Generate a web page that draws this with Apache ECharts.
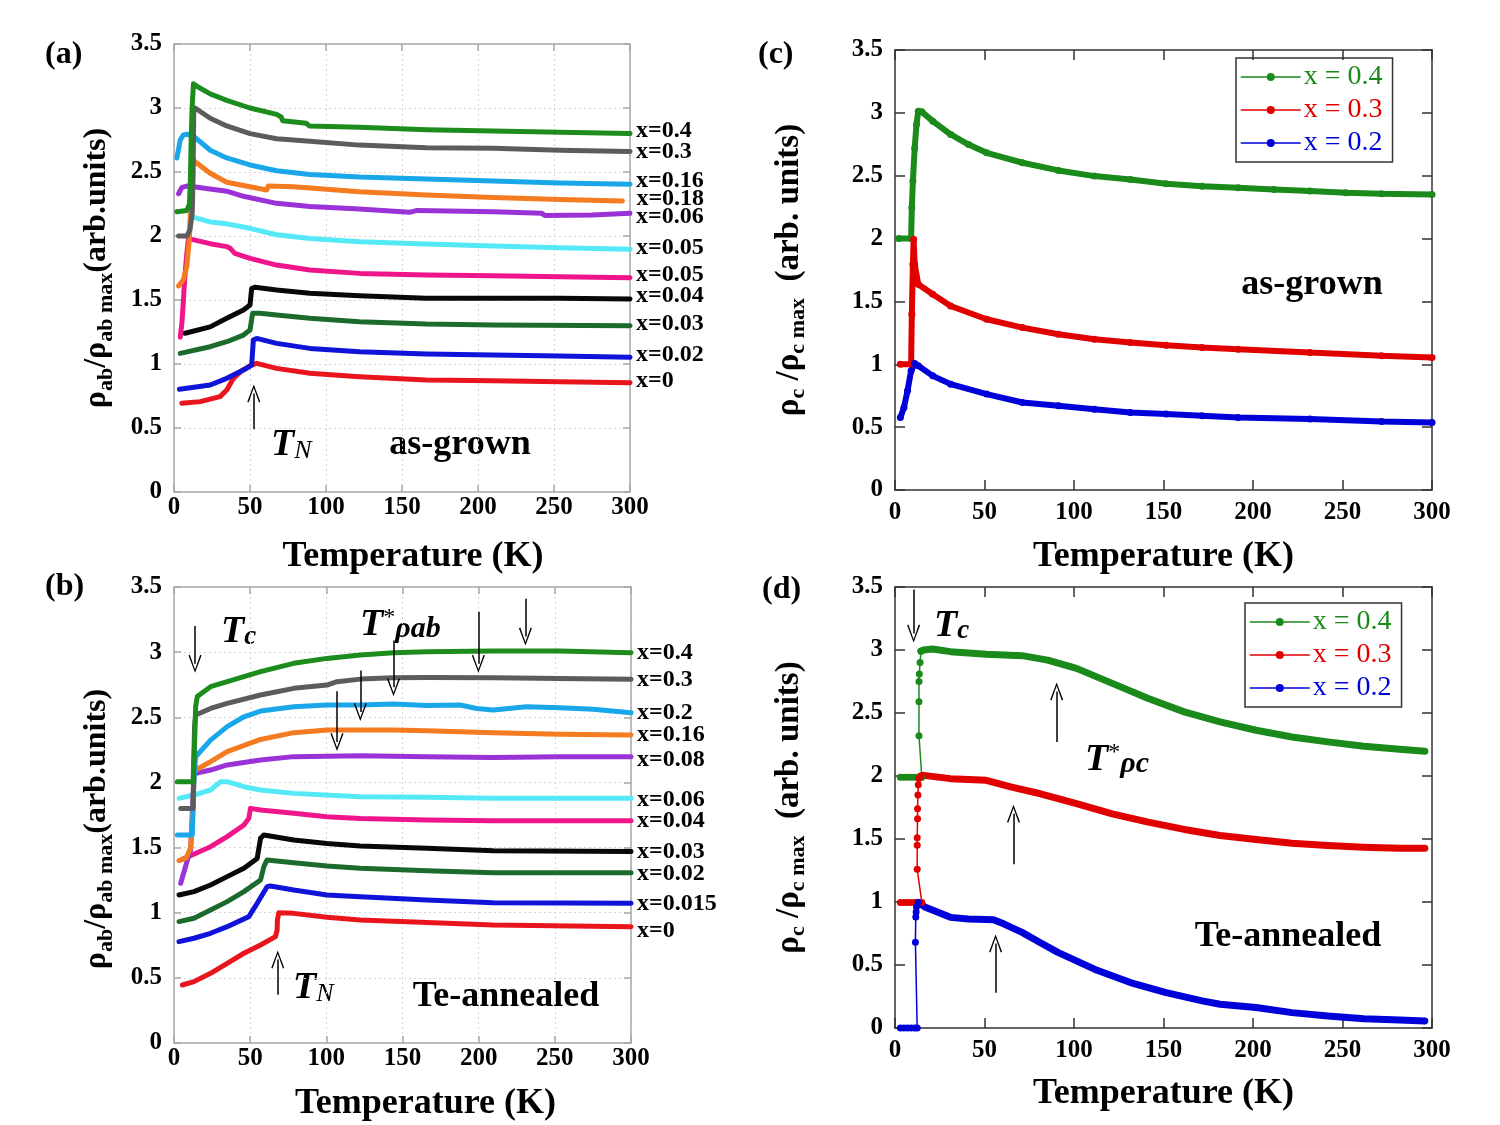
<!DOCTYPE html>
<html>
<head>
<meta charset="utf-8">
<script src="https://cdn.jsdelivr.net/npm/echarts@6/dist/echarts.min.js"></script>
<style>
  html, body { margin: 0; padding: 0; background: #fff; }
  #chart { width: 1500px; height: 1125px; }
</style>
</head>
<body>
<div id="chart"></div>
<script>
// (a) as-grown, rho_ab  [T (K), rho/rho_max]
const aX04 = [[1.9,2.19],[8.4,2.2],[10.2,2.25],[10.8,2.45],[11.3,2.75],[11.9,3.0],[12.8,3.19],[15,3.17],[23.8,3.11],[34.7,3.06],[50,3.0],[67.5,2.95],[70.5,2.93],[71.5,2.9],[87,2.88],[89,2.86],[122,2.85],[166,2.83],[210,2.82],[254,2.81],[300,2.8]]
const aX03 = [[3,2.0],[8.5,2.0],[10.5,2.05],[12,2.18],[12.6,2.5],[13,2.98],[13.9,3.0],[23.8,2.92],[34.7,2.86],[50,2.8],[67.5,2.76],[89.4,2.74],[122,2.71],[166,2.69],[210,2.685],[254,2.67],[300,2.66]]
const aX016 = [[1.9,2.61],[4.1,2.75],[6.2,2.79],[8.4,2.795],[12.8,2.78],[23.8,2.67],[34.7,2.61],[50,2.555],[67.5,2.51],[89.4,2.48],[122,2.46],[166,2.445],[210,2.43],[254,2.415],[300,2.405]]
const aX018 = [[3,1.61],[6.2,1.66],[8.4,1.76],[10.1,1.97],[11,2.28],[11.7,2.49],[12.8,2.59],[23.8,2.49],[34.7,2.42],[50,2.385],[61,2.36],[62,2.39],[78.5,2.385],[122,2.345],[166,2.32],[210,2.3],[254,2.285],[295,2.273]]
const aX006 = [[3,2.33],[5.2,2.38],[8.4,2.39],[12.8,2.385],[34.7,2.35],[45.7,2.31],[67.5,2.255],[89.4,2.23],[122,2.21],[155,2.185],[160,2.2],[210,2.19],[242,2.177],[244,2.16],[275,2.165],[300,2.177]]
const aX005a = [[11.7,2.15],[23.8,2.11],[34.7,2.095],[50,2.06],[67.5,2.01],[89.4,1.98],[122,1.956],[166,1.937],[210,1.922],[254,1.909],[300,1.896]]
const aX005b = [[4.1,1.21],[5.2,1.32],[6.2,1.5],[7.3,1.71],[8.4,1.86],[9.5,1.98],[10.1,1.995],[23.8,1.94],[34.7,1.917],[37,1.904],[40,1.864],[50,1.825],[67.5,1.773],[89.4,1.734],[122,1.708],[166,1.695],[210,1.69],[254,1.682],[300,1.674]]
const aX004 = [[7.3,1.24],[23.8,1.29],[34.7,1.357],[45.7,1.422],[50,1.461],[51.1,1.59],[53.3,1.6],[67.5,1.578],[89.4,1.552],[122,1.534],[166,1.513],[210,1.513],[254,1.513],[300,1.508]]
const aX003 = [[4.1,1.083],[23.8,1.135],[34.7,1.174],[45.7,1.226],[50,1.265],[51.7,1.396],[56.6,1.396],[67.5,1.383],[89.4,1.357],[122,1.331],[166,1.312],[210,1.305],[300,1.299]]
const aX002 = [[3.6,0.802],[23.8,0.836],[34.7,0.888],[45.7,0.953],[51.1,0.992],[52.2,1.187],[54.4,1.2],[67.5,1.161],[89.4,1.122],[122,1.096],[166,1.078],[210,1.07],[254,1.062],[300,1.052]]
const aX0 = [[5.2,0.693],[17.2,0.706],[30.3,0.745],[34.7,0.797],[39.1,0.888],[44.6,0.948],[51.1,0.992],[54.4,1.005],[67.5,0.966],[89.4,0.927],[122,0.901],[166,0.875],[210,0.87],[254,0.862],[300,0.854]]

// (b) Te-annealed, rho_ab
const bX04 = [[2.2,2.006],[12.5,2.006],[13.5,2.3],[14.2,2.58],[15.3,2.66],[24,2.735],[34.9,2.773],[56.8,2.85],[78.6,2.914],[100.4,2.952],[122.3,2.978],[144.1,2.995],[166,3.003],[209.6,3.008],[253.2,3.008],[300,2.995]]
const bX03 = [[4.4,1.8],[12.5,1.8],[13.1,2.22],[13.5,2.43],[14.2,2.517],[24,2.568],[34.9,2.607],[56.8,2.671],[78.6,2.722],[100.4,2.747],[107,2.773],[122.3,2.793],[144.1,2.804],[166,2.806],[209.6,2.804],[253.2,2.798],[300,2.791]]
const bX02 = [[2.2,1.597],[12,1.597],[13.1,2.018],[14.2,2.197],[24,2.325],[34.9,2.428],[45.9,2.504],[56.8,2.548],[78.6,2.581],[100.4,2.594],[122.3,2.594],[144.1,2.602],[166,2.59],[187.8,2.594],[198.7,2.568],[209.6,2.556],[231.4,2.581],[253.2,2.574],[275.1,2.561],[300,2.535]]
const bX016 = [[3.3,1.4],[8,1.42],[11,1.5],[12.5,1.8],[13.1,2.07],[14.2,2.095],[24,2.159],[34.9,2.236],[56.8,2.33],[78.6,2.382],[100.4,2.402],[122.3,2.402],[144.1,2.402],[166,2.397],[209.6,2.382],[253.2,2.369],[300,2.364]]
const bX008 = [[4.4,1.226],[6.6,1.315],[8.8,1.405],[10.9,1.481],[12,1.763],[13.1,2.044],[14.2,2.07],[24,2.095],[34.9,2.134],[56.8,2.172],[78.6,2.198],[122.3,2.205],[166,2.198],[209.6,2.192],[253.2,2.198],[300,2.198]]
const bX006 = [[3.3,1.878],[13.1,1.903],[24,1.942],[30.6,2.006],[34.9,2.006],[45.9,1.967],[56.8,1.942],[78.6,1.916],[122.3,1.891],[166,1.886],[209.6,1.878],[300,1.878]]
const bX004 = [[5.5,1.41],[24,1.507],[34.9,1.584],[45.9,1.673],[49.1,1.724],[50.2,1.801],[56.8,1.788],[78.6,1.763],[100.4,1.737],[122.3,1.724],[166,1.712],[209.6,1.706],[300,1.706]]
const bX003 = [[3.3,1.136],[13.1,1.162],[24,1.213],[34.9,1.277],[45.9,1.341],[54.6,1.417],[56.8,1.571],[59,1.597],[78.6,1.558],[100.4,1.532],[122.3,1.512],[166,1.494],[209.6,1.476],[300,1.469]]
const bX002 = [[3.3,0.932],[13.1,0.957],[24,1.021],[34.9,1.085],[45.9,1.162],[56.8,1.251],[59,1.354],[61.1,1.405],[78.6,1.384],[100.4,1.359],[122.3,1.341],[166,1.323],[209.6,1.307],[300,1.307]]
const bX0015 = [[3.3,0.778],[13.1,0.804],[24,0.842],[34.9,0.893],[49.1,0.97],[54.6,1.072],[61.1,1.2],[63.3,1.205],[78.6,1.174],[100.4,1.136],[122.3,1.123],[166,1.098],[209.6,1.077],[300,1.072]]
const bX0 = [[5.5,0.445],[13.1,0.471],[24,0.535],[34.9,0.612],[45.9,0.689],[56.8,0.752],[66.6,0.816],[67.7,0.867],[67.9,0.944],[68.8,1.0],[78.6,0.995],[100.4,0.965],[122.3,0.944],[166,0.924],[209.6,0.906],[300,0.893]]

// (c) as-grown, rho_c
const cX04 = [[2,2.0],[9,2.0],[9.4,2.245],[10,2.457],[11,2.72],[12,2.907],[13,3.013],[15,3.008],[21.1,2.934],[31.1,2.828],[41.1,2.748],[51.2,2.682],[71.2,2.603],[91.3,2.542],[111.4,2.497],[131.5,2.47],[151.5,2.436],[171.6,2.417],[191.7,2.404],[211.7,2.391],[231.8,2.378],[251.9,2.364],[271.9,2.356],[300,2.351]]
const cX03 = [[3,1.0],[9,1.0],[9.4,1.398],[10,1.795],[10.4,1.994],[11,1.795],[13,1.636],[21.1,1.557],[31.1,1.464],[51.2,1.358],[71.2,1.292],[91.3,1.239],[111.4,1.199],[131.5,1.173],[151.5,1.152],[171.6,1.133],[191.7,1.12],[231.8,1.093],[271.9,1.067],[300,1.054]]
const cX02 = [[3,0.577],[5,0.657],[7,0.789],[9,0.948],[11,1.006],[13,0.988],[21.1,0.908],[31.1,0.842],[51.2,0.763],[71.2,0.696],[91.3,0.67],[111.4,0.643],[131.5,0.617],[151.5,0.604],[171.6,0.59],[191.7,0.577],[231.8,0.564],[271.9,0.545],[300,0.537]]

// (d) Te-annealed, rho_c : low-T part (sparse points) and normal state
const dX04Low = [[3,1.99],[5,1.99],[7,1.99],[9,1.99],[11,1.99],[13,1.99],[15,1.99],[13.4,2.32],[13.4,2.59],[13.4,2.75],[13.6,2.81],[14,2.9],[14.5,2.99]]
const dX04 = [[14.5,2.99],[16,3.0],[21,3.008],[31,2.987],[51,2.966],[71,2.955],[85.3,2.92],[101.4,2.854],[121.4,2.735],[141.5,2.615],[161.6,2.509],[181.6,2.43],[201.7,2.363],[221.8,2.31],[241.8,2.271],[261.9,2.236],[282,2.212],[296,2.196]]
const dX03Low = [[3,0.997],[5,0.997],[7,0.997],[9,0.997],[11,0.997],[13,0.997],[15,0.997],[12.4,1.26],[12.4,1.45],[12.4,1.51],[12.6,1.66],[12.6,1.74],[12.8,1.85],[13,1.93],[13.4,1.98],[14.5,2.0]]
const dX03 = [[14.5,2.0],[16,2.005],[31,1.979],[51,1.966],[65.2,1.912],[81.3,1.859],[101.4,1.78],[121.4,1.7],[141.5,1.634],[161.6,1.576],[181.6,1.528],[201.7,1.496],[221.8,1.467],[241.8,1.448],[261.9,1.435],[282,1.427],[296,1.427]]
const dX02Low = [[3,0],[5,0],[7,0],[9,0],[11,0],[12.4,0],[11.4,0.68],[11.6,0.88],[11.8,0.92],[12,0.96],[13,0.997]]
const dX02 = [[13,0.997],[17,0.958],[31,0.878],[41,0.865],[55,0.859],[61,0.825],[71,0.759],[81,0.679],[91,0.6],[111.4,0.467],[131.5,0.361],[151.5,0.281],[171.6,0.215],[181.6,0.188],[201.7,0.162],[221.8,0.122],[241.8,0.095],[261.9,0.074],[282,0.064],[296,0.056]]

// annotation arrows [from, to]
const aArrows = [[[52.5, 0.49], [52.5, 0.77]]]
const bArrows = [
  [[13.8, 3.2], [13.8, 2.91]],
  [[107, 2.7], [107, 2.31]],
  [[122.3, 2.86], [122.3, 2.54]],
  [[144.1, 3.09], [144.1, 2.73]],
  [[199.8, 3.31], [199.8, 2.91]],
  [[230.7, 3.41], [230.7, 3.12]],
  [[68.1, 0.37], [68.1, 0.64]]
]
const dArrows = [
  [[10.4, 3.48], [10.4, 3.13]],
  [[90.3, 2.27], [90.3, 2.67]],
  [[66.2, 1.3], [66.2, 1.7]],
  [[56.2, 0.28], [56.2, 0.67]]
]

const SERIF = '"Liberation Serif", "Times New Roman", serif'
const chevron = 'path://M5,0 L10,14 L9,14.6 L5,2.8 L1,14.6 L0,14 Z'

const chart = echarts.init(document.getElementById('chart'))

function frameAxes(grid, dim, light) {
  const col = light ? '#a8a8a8' : '#333'
  const labelStyle = { fontFamily: SERIF, fontWeight: 'bold', fontSize: 25, color: '#000' }
  const isX = dim === 'x'
  const main = {
    gridIndex: grid, type: 'value',
    min: 0, max: isX ? 300 : 3.5, interval: isX ? 50 : 0.5,
    axisLine: { show: true, onZero: false, lineStyle: { color: col, width: 1.5 } },
    axisTick: { show: true, inside: true, length: light ? 7 : 10, lineStyle: { color: col, width: 1.5 } },
    axisLabel: Object.assign({ margin: isX ? (light ? 3 : 10) : 12 }, labelStyle),
    splitLine: { show: light, lineStyle: { type: [2, 3], color: '#d6d6d6', width: 1 } }
  }
  const mirror = {
    gridIndex: grid, type: 'value', position: isX ? 'top' : 'right',
    min: 0, max: isX ? 300 : 3.5, interval: isX ? 50 : 0.5,
    axisLine: { show: true, onZero: false, lineStyle: { color: col, width: 1.5 } },
    axisTick: { show: true, inside: true, length: light ? 7 : 10, lineStyle: { color: col, width: 1.5 } },
    axisLabel: { show: false },
    splitLine: { show: false }
  }
  return [main, mirror]
}

const xTitleStyle = { fontFamily: SERIF, fontWeight: 'bold', fontSize: 36, color: '#000' }
function yTitleRich(size) {
  return {
    fontFamily: SERIF, fontWeight: 'bold', color: '#000',
    rich: {
      b: { fontFamily: SERIF, fontWeight: 'bold', fontSize: size, lineHeight: 36, verticalAlign: 'top', color: '#000' },
      s: { fontFamily: SERIF, fontWeight: 'bold', fontSize: 22, lineHeight: 14, verticalAlign: 'bottom', color: '#000' }
    }
  }
}

const xAxes = [], yAxes = []
;[0, 1, 2, 3].forEach(g => {
  const light = g < 2
  const [xm, xt] = frameAxes(g, 'x', light)
  const [ym, yr] = frameAxes(g, 'y', light)
  xm.name = 'Temperature (K)'
  xm.nameLocation = 'middle'
  xm.nameTextStyle = Object.assign({}, xTitleStyle)
  ym.nameLocation = 'middle'
  ym.nameRotate = 90
  if (light) {
    ym.name = '{b|ρ}{s|ab}{b|/ρ}{s|ab max}{b|(arb.units)}'
    ym.nameGap = 57
    ym.nameTextStyle = yTitleRich(32)
  } else {
    ym.name = '{b|ρ}{s|c}{b| /ρ}{s|c max}{b|  (arb. units)}'
    ym.nameGap = 86
    ym.nameTextStyle = yTitleRich(33)
  }
  xAxes.push(xm, xt)
  yAxes.push(ym, yr)
})
xAxes[0].nameGap = 47; xAxes[0].nameTextStyle.padding = [0, 0, 0, 22]
xAxes[2].nameGap = 43; xAxes[2].nameTextStyle.padding = [0, 0, 0, 46]
xAxes[4].nameGap = 49
xAxes[6].nameGap = 48
yAxes[2].nameTextStyle.padding = [0, 28, 0, 0]

function markArrows(list) {
  return {
    silent: true,
    animation: false,
    symbol: ['none', chevron],
    symbolSize: [13, 18],
    lineStyle: { color: '#000', width: 1.5, type: 'solid' },
    label: { show: false },
    emphasis: { disabled: true },
    data: list.map(a => [{ coord: a[0] }, { coord: a[1] }])
  }
}

function abSeries(grid, data, color, label, dy, dx) {
  return {
    type: 'line', data: data,
    xAxisIndex: grid * 2, yAxisIndex: grid * 2,
    symbol: 'none', showSymbol: false, silent: true,
    lineStyle: { color: color, width: 5, cap: 'round', join: 'round' },
    itemStyle: { color: color },
    endLabel: {
      show: true, formatter: label, distance: 6 + (dx || 0),
      offset: [0, dy || 0],
      fontFamily: SERIF, fontWeight: 'bold', fontSize: 24, color: '#000'
    }
  }
}

const GREEN = '#1c8c1c', GRAY = '#5c5c5c', SKY = '#1aa7ea', ORANGE = '#f47b20',
  PURPLE = '#9a32d8', CYAN = '#55e9f7', PINK = '#ee168a', BLACK = '#080808',
  DKGREEN = '#1c6b2c', BLUE = '#0f14d8', RED = '#e8161c'
const C_GREEN = '#1a8a1a', C_RED = '#e00000', C_BLUE = '#0000d8'

const series = [
  abSeries(0, aX0, RED, 'x=0', -2),
  abSeries(0, aX002, BLUE, 'x=0.02', -3),
  abSeries(0, aX003, DKGREEN, 'x=0.03', -2),
  abSeries(0, aX004, BLACK, 'x=0.04', -3),
  abSeries(0, aX005b, PINK, 'x=0.05', -3),
  abSeries(0, aX005a, CYAN, 'x=0.05', -2),
  abSeries(0, aX006, PURPLE, 'x=0.06', 3),
  abSeries(0, aX018, ORANGE, 'x=0.18', -2, 8),
  abSeries(0, aX016, SKY, 'x=0.16', -3),
  abSeries(0, aX03, GRAY, 'x=0.3', 0),
  abSeries(0, aX04, GREEN, 'x=0.4', -3),
  abSeries(1, bX0, RED, 'x=0', 4),
  abSeries(1, bX0015, BLUE, 'x=0.015', 0),
  abSeries(1, bX002, DKGREEN, 'x=0.02', 1),
  abSeries(1, bX003, BLACK, 'x=0.03', 0),
  abSeries(1, bX004, PINK, 'x=0.04', 0),
  abSeries(1, bX006, CYAN, 'x=0.06', 1),
  abSeries(1, bX008, PURPLE, 'x=0.08', 3),
  abSeries(1, bX016, ORANGE, 'x=0.16', 0),
  abSeries(1, bX02, SKY, 'x=0.2', 0),
  abSeries(1, bX03, GRAY, 'x=0.3', 0),
  abSeries(1, bX04, GREEN, 'x=0.4', 0)
]
series[0].markLine = markArrows(aArrows)
series[11].markLine = markArrows(bArrows)

function cSeries(name, data, color) {
  return {
    type: 'line', name: name, data: data,
    xAxisIndex: 4, yAxisIndex: 4, silent: true,
    symbol: 'circle', symbolSize: 7, showSymbol: true, showAllSymbol: true,
    lineStyle: { color: color, width: 6 },
    itemStyle: { color: color }
  }
}
function dLow(name, data, color) {
  return {
    type: 'line', name: name, data: data,
    xAxisIndex: 6, yAxisIndex: 6, silent: true,
    symbol: 'circle', symbolSize: 7, showSymbol: true, showAllSymbol: true,
    lineStyle: { color: color, width: 1.5 },
    itemStyle: { color: color }
  }
}
function dMain(name, data, color) {
  return {
    type: 'line', name: name, data: data,
    xAxisIndex: 6, yAxisIndex: 6, silent: true,
    symbol: 'circle', symbolSize: 7, showSymbol: false,
    lineStyle: { color: color, width: 7, cap: 'round', join: 'round' },
    itemStyle: { color: color }
  }
}
series.push(
  cSeries('x = 0.4', cX04, C_GREEN),
  cSeries('x = 0.3', cX03, C_RED),
  cSeries('x = 0.2', cX02, C_BLUE),
  dLow('d 0.4 low', dX04Low, C_GREEN),
  dLow('d 0.3 low', dX03Low, C_RED),
  dLow('d 0.2 low', dX02Low, C_BLUE),
  dMain('x = 0.4', dX04, C_GREEN),
  dMain('x = 0.3', dX03, C_RED),
  dMain('x = 0.2', dX02, C_BLUE)
)
series[series.length - 3].markLine = markArrows(dArrows)

function legendAt(left, top) {
  return {
    data: [
      { name: 'x = 0.4', textStyle: { color: C_GREEN } },
      { name: 'x = 0.3', textStyle: { color: C_RED } },
      { name: 'x = 0.2', textStyle: { color: C_BLUE } }
    ],
    orient: 'vertical', left: left, top: top,
    itemWidth: 60, itemHeight: 10, itemGap: 5,
    padding: [5, 10, 5, 4],
    borderColor: '#333', borderWidth: 1.5,
    selectedMode: false,
    lineStyle: { width: 1.5 },
    itemStyle: { borderWidth: 0 },
    textStyle: { fontFamily: SERIF, fontSize: 28, padding: [0, 0, 0, -2] }
  }
}

function txt(x, y, text, opts) {
  return {
    type: 'text', x: x, y: y, silent: true,
    style: Object.assign({
      text: text, fill: '#000',
      fontFamily: SERIF, fontWeight: 'bold', fontSize: 36,
      align: 'left', verticalAlign: 'middle',
      textAlign: 'left', textVerticalAlign: 'middle'
    }, opts || {})
  }
}
const symRich = {
  t: { fontFamily: SERIF, fontStyle: 'italic', fontWeight: 'bold', fontSize: 38, lineHeight: 38, verticalAlign: 'top' },
  n: { fontFamily: SERIF, fontStyle: 'italic', fontWeight: 'normal', fontSize: 26, lineHeight: 20, verticalAlign: 'bottom' },
  c: { fontFamily: SERIF, fontStyle: 'italic', fontWeight: 'bold', fontSize: 27, lineHeight: 20, verticalAlign: 'bottom' },
  sup: { fontFamily: SERIF, fontWeight: 'normal', fontSize: 24, lineHeight: 18, verticalAlign: 'top' },
  r: { fontFamily: SERIF, fontStyle: 'italic', fontWeight: 'bold', fontSize: 30, lineHeight: 20, verticalAlign: 'bottom' }
}

const graphics = [
  txt(45, 55, '(a)', { fontSize: 32 }),
  txt(45, 587, '(b)', { fontSize: 32 }),
  txt(758, 55, '(c)', { fontSize: 32 }),
  txt(762, 590, '(d)', { fontSize: 32 }),
  txt(460, 445, 'as-grown', { align: 'center', textAlign: 'center' }),
  txt(506, 997, 'Te-annealed', { align: 'center', textAlign: 'center' }),
  txt(1312, 285, 'as-grown', { align: 'center', textAlign: 'center' }),
  txt(1288, 937, 'Te-annealed', { align: 'center', textAlign: 'center' }),
  txt(271, 445, '{t|T}{n|N}', { rich: symRich }),
  txt(293, 988, '{t|T}{n|N}', { rich: symRich }),
  txt(221, 632, '{t|T}{c|c}', { rich: symRich }),
  txt(934, 626, '{t|T}{c|c}', { rich: symRich }),
  txt(360, 625, '{t|T}{sup|*}{r|ρab}', { rich: symRich }),
  txt(1085, 760, '{t|T}{sup|*}{r|ρc}', { rich: symRich })
]

chart.setOption({
  animation: false,
  backgroundColor: '#fff',
  grid: [
    { left: 174, top: 44, width: 456, height: 448 },
    { left: 174, top: 587, width: 457, height: 456 },
    { left: 895, top: 50, width: 537, height: 440 },
    { left: 895, top: 587, width: 537, height: 441 }
  ],
  xAxis: xAxes,
  yAxis: yAxes,
  legend: [legendAt(1236, 58), legendAt(1245, 603)],
  series: series,
  graphic: graphics
})
</script>
</body>
</html>
